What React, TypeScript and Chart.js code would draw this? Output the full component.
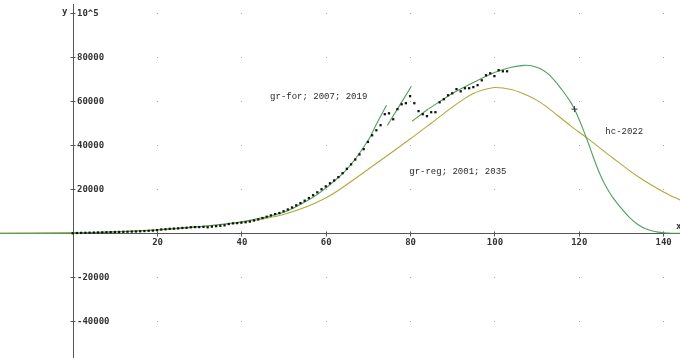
import React, { useEffect, useRef } from 'react';
import { Chart, registerables } from 'chart.js';

Chart.register(...registerables);

// observed points (x = 0..103)
const obsX: number[] = Array.from({ length: 104 }, (_, i) => i);
const obsY: number[] = [
  0, 100, 150, 200, 250, 300, 350, 400, 450, 500,
  550, 600, 650, 700, 750, 800, 900, 1000, 1100, 1200,
  1400, 1700, 1800, 2000, 2100, 2200, 2400, 2500, 2700, 2800,
  2800, 2900, 2700, 3000, 3200, 3400, 3600, 4200, 4500, 4600,
  4800, 5000, 5300, 5800, 6300, 6900, 7500, 8100, 8700, 9200,
  10000, 10800, 11700, 12700, 13700, 14800, 16000, 17300, 18600, 20000,
  21300, 22700, 24000, 25500, 27300, 29300, 31300, 33500, 35800, 38200,
  41500, 44500, 46800, 49100, 54100, 54500, 51800, 56400, 58600, 59100,
  62300, 59100, 55500, 54100, 53200, 55000, 55000, 59500, 60900, 62700,
  63600, 65500, 64500, 65900, 65900, 66400, 67300, 69500, 71800, 72700,
  71400, 74100, 73600, 73600,
];

// gr-reg; 2001; 2035 (olive curve)
const regX: number[] = [-18, 0, 10, 20, 30, 40, 50, 60, 70, 80, 85, 90, 93, 95, 97, 100, 102, 104, 106, 108, 110, 112, 115, 118, 122, 128, 134, 140, 145];
const regY: number[] = [0, 200, 700, 1600, 3000, 5000, 8500, 16000, 29000, 42800, 50000, 57300, 61300, 63500, 65000, 66200, 66000, 65300, 64100, 62500, 60500, 58000, 53500, 48900, 43200, 34300, 25800, 18900, 14200];

// hc-2022, rising part (green)
const hcLowX: number[] = [-18, 0, 10, 20, 30, 40, 50, 57, 60, 65, 70, 72, 74.4];
const hcLowY: number[] = [0, 100, 600, 1500, 3000, 5200, 9500, 16400, 20500, 29000, 42000, 49500, 58200];

// gr-for segment (green)
const forX: number[] = [74.6, 80.3];
const forY: number[] = [49000, 66800];

// hc-2022, forecast part (green)
const hcHighX: number[] = [80.5, 84, 87, 90, 95, 100, 104, 107, 109, 111, 113, 115, 116, 117, 118, 119, 120, 121, 122, 123, 124, 125, 126, 127, 128, 130, 132, 134, 136, 138, 140, 142, 145];
const hcHighY: number[] = [50900, 56000, 59800, 63500, 68500, 73000, 75400, 76300, 76000, 74600, 72000, 67700, 65200, 62600, 59800, 56300, 52000, 47300, 42300, 37000, 31700, 26900, 22800, 19400, 16400, 11500, 7200, 4000, 1900, 800, 250, 0, 0];

// marker
const markX: number[] = [119];
const markY: number[] = [56400];

const xTickValues: number[] = [20, 40, 60, 80, 100, 120, 140];
const xTickLabels: string[] = ['20', '40', '60', '80', '100', '120', '140'];
const yTickValues: number[] = [-40000, -20000, 20000, 40000, 60000, 80000, 100000];
const yTickLabels: string[] = ['-40000', '-20000', '20000', '40000', '60000', '80000', '10^5'];

const annotTexts: string[] = ['gr-for; 2007; 2019', 'gr-reg; 2001; 2035', 'hc-2022'];
const annotX: number[] = [46.8, 79.8, 126.3];
const annotY: number[] = [62000, 28000, 46000];

const X_MIN = -17.24;
const X_MAX = 144.0;
const Y_MIN = -56700;
const Y_MAX = 106000;

const pts = (xs: number[], ys: number[]) => xs.map((x, i) => ({ x, y: ys[i] }));

const GREEN = '#4f9f5c';
const OLIVE = '#b4a83a';

const axesPlugin = {
  id: 'axesPlugin',
  beforeDatasetsDraw(chart: any) {
    const ctx = chart.ctx as CanvasRenderingContext2D;
    const xs = chart.scales.x;
    const ys = chart.scales.y;
    const x0 = Math.round(xs.getPixelForValue(0)) + 0.5;
    const y0 = Math.round(ys.getPixelForValue(0)) + 0.5;
    ctx.save();
    // grid dots
    ctx.fillStyle = '#a8a8a8';
    for (const gx of xTickValues) {
      for (const gy of yTickValues) {
        ctx.fillRect(Math.round(xs.getPixelForValue(gx)), Math.round(ys.getPixelForValue(gy)), 1, 1);
      }
    }
    // axes
    ctx.strokeStyle = '#555555';
    ctx.lineWidth = 1;
    ctx.beginPath();
    ctx.moveTo(0, y0);
    ctx.lineTo(chart.width, y0);
    ctx.moveTo(x0, Math.round(ys.getPixelForValue(104000)));
    ctx.lineTo(x0, chart.height);
    for (const v of yTickValues) {
      const p = Math.round(ys.getPixelForValue(v)) + 0.5;
      ctx.moveTo(x0 - 3, p);
      ctx.lineTo(x0 + 2, p);
    }
    for (const v of xTickValues) {
      const p = Math.round(xs.getPixelForValue(v)) + 0.5;
      ctx.moveTo(p, y0 - 2);
      ctx.lineTo(p, y0 + 3);
    }
    ctx.stroke();
    // tick labels
    ctx.fillStyle = '#333333';
    ctx.font = 'bold 9px "DejaVu Sans Mono"';
    ctx.textAlign = 'left';
    ctx.textBaseline = 'middle';
    yTickValues.forEach((v, i) => {
      ctx.fillText(yTickLabels[i], x0 + 3.5, ys.getPixelForValue(v) + 0.5);
    });
    ctx.textAlign = 'center';
    ctx.textBaseline = 'top';
    xTickValues.forEach((v, i) => {
      ctx.fillText(xTickLabels[i], xs.getPixelForValue(v) + 0.5, y0 + 5);
    });
    // axis names
    ctx.textAlign = 'right';
    ctx.textBaseline = 'middle';
    ctx.fillText('y', x0 - 6, 12);
    ctx.textAlign = 'left';
    ctx.fillText('x', chart.width - 4, y0 - 7);
    // annotations
    ctx.font = '9px "Liberation Mono"';
    ctx.fillStyle = '#2a2a2a';
    ctx.textAlign = 'left';
    ctx.textBaseline = 'middle';
    annotTexts.forEach((t, i) => {
      ctx.fillText(t, xs.getPixelForValue(annotX[i]), ys.getPixelForValue(annotY[i]));
    });
    ctx.restore();
  },
};

export default function App() {
  const ref = useRef<HTMLCanvasElement | null>(null);
  useEffect(() => {
    if (!ref.current) return;
    const lineDs = (data: any[], color: string) => ({
      type: 'scatter' as const,
      data,
      showLine: true,
      borderColor: color,
      borderWidth: 1.1,
      pointRadius: 0,
      tension: 0.3,
      fill: false,
    });
    const chart = new Chart(ref.current, {
      type: 'scatter',
      data: {
        datasets: [
          {
            type: 'scatter',
            data: pts(obsX, obsY),
            pointStyle: 'rect',
            pointRadius: 1.6,
            borderWidth: 0,
            backgroundColor: '#111111',
            borderColor: '#111111',
            showLine: false,
          } as any,
          {
            type: 'scatter',
            data: pts(markX, markY),
            pointStyle: 'cross',
            pointRadius: 3,
            borderWidth: 1,
            borderColor: '#333333',
            showLine: false,
          } as any,
          lineDs(pts(hcLowX, hcLowY), GREEN) as any,
          lineDs(pts(forX, forY), GREEN) as any,
          lineDs(pts(hcHighX, hcHighY), GREEN) as any,
          lineDs(pts(regX, regY), OLIVE) as any,
        ],
      },
      options: {
        animation: false,
        responsive: true,
        maintainAspectRatio: false,
        layout: { padding: 0, autoPadding: false },
        plugins: { legend: { display: false }, tooltip: { enabled: false } },
        scales: {
          x: { type: 'linear', min: X_MIN, max: X_MAX, display: false },
          y: { type: 'linear', min: Y_MIN, max: Y_MAX, display: false },
        },
      },
      plugins: [axesPlugin],
    });
    return () => chart.destroy();
  }, []);
  return (
    <div style={{ position: 'fixed', left: 0, top: 0, width: 680, height: 358, background: '#ffffff' }}>
      <canvas ref={ref} />
    </div>
  );
}
